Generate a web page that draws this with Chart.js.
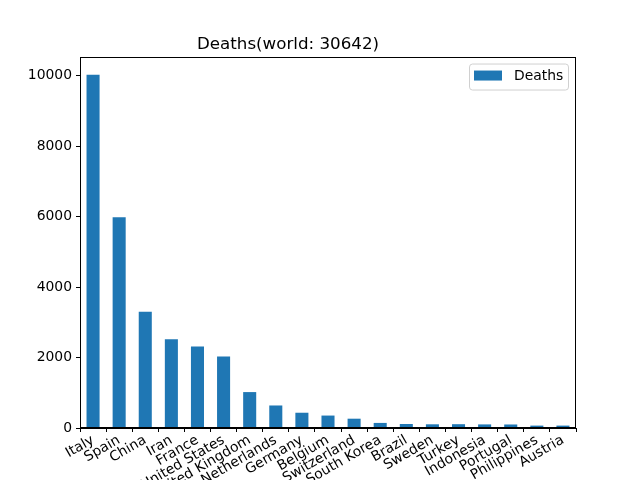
<!DOCTYPE html>
<html>
<head>
<meta charset="utf-8">
<script src="https://cdn.jsdelivr.net/npm/chart.js@4/dist/chart.umd.min.js"></script>
<style>
  html, body { margin: 0; padding: 0; background: #fff; }
  #wrap { width: 640px; height: 480px; }
</style>
</head>
<body>
<div id="wrap"><canvas id="deathsChart" width="640" height="480"></canvas></div>
<script>
const countries = ["Italy", "Spain", "China", "Iran", "France", "United States", "United Kingdom",
    "Netherlands", "Germany", "Belgium", "Switzerland", "South Korea", "Brazil", "Sweden",
    "Turkey", "Indonesia", "Portugal", "Philippines", "Austria"];
const deaths = [10023, 5982, 3301, 2517, 2314, 2026, 1019, 639, 433, 353, 264, 144, 114, 105,
    108, 102, 100, 68, 68];
const y_ticks = [0, 2000, 4000, 6000, 8000, 10000];
const world_total = 30642;

const FONT = "'DejaVu Sans', sans-serif";
const BLUE = "#1f77b4";

// frame round the plot area + matplotlib style legend box
const frame_plugin = {
    id: "frame",
    afterDraw(chart) {
        const ctx = chart.ctx;
        const a = chart.chartArea;
        ctx.save();
        ctx.strokeStyle = "#000";
        ctx.lineWidth = 1;
        ctx.strokeRect(Math.round(a.left) + 0.5, Math.round(a.top) + 0.5,
            Math.round(a.right - a.left) - 1, Math.round(a.bottom - a.top) - 1);

        // legend
        const lx = a.right - 107, ly = a.top + 6.5, lw = 99, lh = 26;
        ctx.beginPath();
        ctx.roundRect(lx + 0.5, ly + 0.5, lw, lh, 3);
        ctx.fillStyle = "rgba(255,255,255,0.8)";
        ctx.fill();
        ctx.strokeStyle = "#d0d0d0";
        ctx.stroke();
        ctx.fillStyle = BLUE;
        ctx.fillRect(lx + 5, ly + 7, 28, 10);
        ctx.fillStyle = "#000";
        ctx.font = "13.9px " + FONT;
        ctx.textBaseline = "middle";
        ctx.fillText(chart.data.datasets[0].label, lx + 45, ly + 13);
        ctx.restore();
    }
};

new Chart(document.getElementById("deathsChart"), {
    type: "bar",
    data: {
        labels: countries,
        datasets: [{
            label: "Deaths",
            data: deaths,
            backgroundColor: BLUE,
            barPercentage: 0.5,
            categoryPercentage: 1.0,
        }],
    },
    options: {
        responsive: false,
        animation: false,
        layout: { padding: { left: 0, right: 64, top: 0, bottom: 0 } },
        plugins: {
            legend: { display: false },
            tooltip: { enabled: false },
            title: {
                display: true,
                text: "Deaths(world: " + world_total + ")",
                color: "#000",
                font: { family: FONT, size: 16.7, weight: "normal" },
                padding: { top: 35, bottom: 2 },
            },
        },
        scales: {
            x: {
                offset: true,
                grid: { display: true, drawOnChartArea: false, drawTicks: true, tickLength: 4, color: "#000" },
                border: { display: true, color: "#000" },
                ticks: {
                    color: "#000",
                    font: { family: FONT, size: 13.9 },
                    autoSkip: false,
                    maxRotation: 30,
                    minRotation: 30,
                    padding: 0,
                },
                afterFit(scale) { scale.height = 52; },
            },
            y: {
                min: 0,
                max: 10524,
                afterBuildTicks(scale) { scale.ticks = y_ticks.map(v => ({ value: v })); },
                grid: { display: true, drawOnChartArea: false, drawTicks: true, tickLength: 4, color: "#000" },
                border: { display: true, color: "#000" },
                ticks: {
                    color: "#000",
                    font: { family: FONT, size: 13.9 },
                    padding: 4,
                    callback: (v) => String(v),
                },
                afterFit(scale) { scale.width = 80; },
            },
        },
    },
    plugins: [frame_plugin],
});
</script>
</body>
</html>
